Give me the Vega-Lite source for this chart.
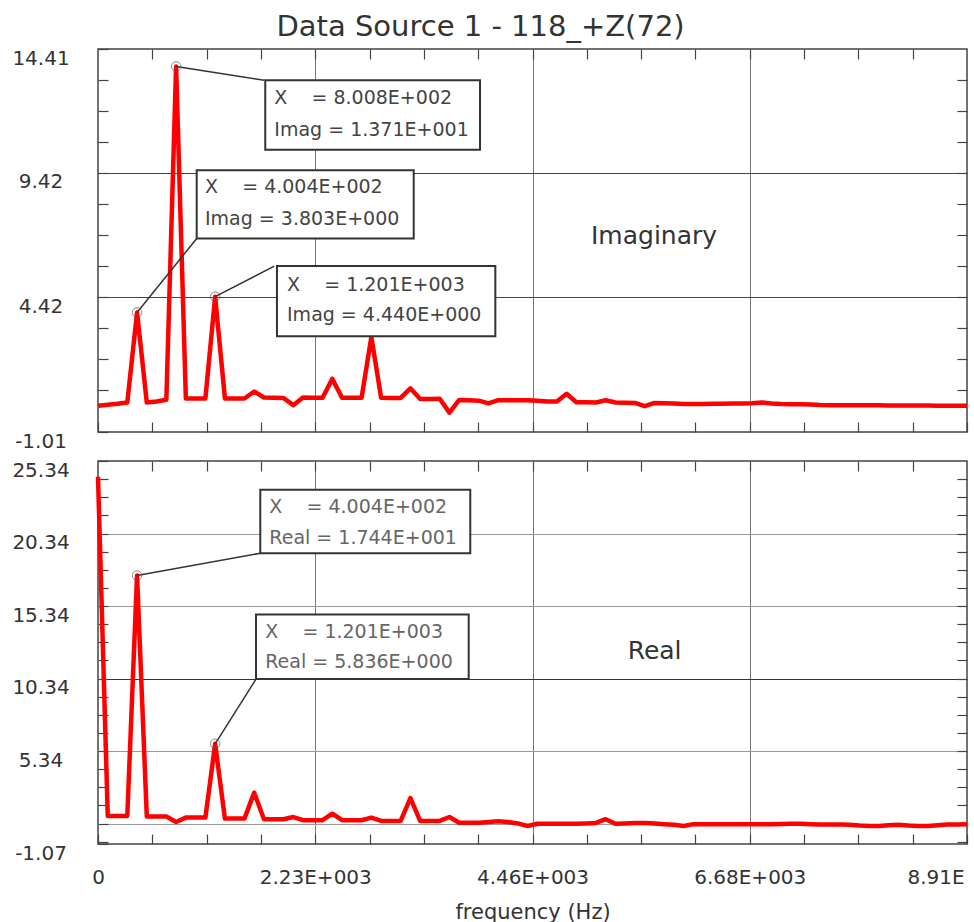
{
  "$schema": "https://vega.github.io/schema/vega-lite/v6.json",
  "autosize": {"type": "pad"},
  "padding": {"left": 11, "top": 13, "right": 8, "bottom": 2},
  "background": "white",
  "title": {"text": "Data Source 1 - 118_+Z(72)", "font": "DejaVu Sans", "fontSize": 29, "fontWeight": "normal", "color": "#333333", "anchor": "middle", "dx": -10, "offset": -18, "baseline": "alphabetic"},
  "config": {
    "font": "DejaVu Sans",
    "view": {"stroke": "#444444", "strokeWidth": 1.5},
    "axis": {"domain": false, "labelFont": "DejaVu Sans", "labelFontSize": 20, "labelColor": "#333333", "tickColor": "#444444", "tickWidth": 1.2, "gridColor": "#555555", "gridWidth": 1, "titleFont": "DejaVu Sans", "titleFontSize": 21, "titleFontWeight": "normal", "titleColor": "#333333", "labelFlush": false, "labelOverlap": false, "labelBound": false}
  },
  "datasets": {
    "imag": [
      {"f": 0, "v": 0.05}, {"f": 100.1, "v": 0.09}, {"f": 200.2, "v": 0.13}, {"f": 300.3, "v": 0.18}, {"f": 400.4, "v": 3.803},
      {"f": 500.5, "v": 0.18}, {"f": 600.6, "v": 0.22}, {"f": 700.7, "v": 0.29}, {"f": 800.8, "v": 13.71}, {"f": 900.9, "v": 0.34},
      {"f": 1001, "v": 0.34}, {"f": 1101.1, "v": 0.34}, {"f": 1201.2, "v": 4.44}, {"f": 1301.3, "v": 0.34}, {"f": 1401.4, "v": 0.34},
      {"f": 1501.5, "v": 0.34}, {"f": 1601.6, "v": 0.62}, {"f": 1701.7, "v": 0.38}, {"f": 1801.8, "v": 0.37}, {"f": 1901.9, "v": 0.36},
      {"f": 2002, "v": 0.07}, {"f": 2102.1, "v": 0.38}, {"f": 2202.2, "v": 0.37}, {"f": 2302.3, "v": 0.37}, {"f": 2402.4, "v": 1.13},
      {"f": 2502.5, "v": 0.37}, {"f": 2602.6, "v": 0.37}, {"f": 2702.7, "v": 0.37}, {"f": 2802.8, "v": 2.82}, {"f": 2902.9, "v": 0.37},
      {"f": 3003, "v": 0.36}, {"f": 3103.1, "v": 0.36}, {"f": 3203.2, "v": 0.75}, {"f": 3303.3, "v": 0.32}, {"f": 3403.4, "v": 0.32},
      {"f": 3503.5, "v": 0.33}, {"f": 3603.6, "v": -0.23}, {"f": 3703.7, "v": 0.28}, {"f": 3803.8, "v": 0.27}, {"f": 3903.9, "v": 0.25},
      {"f": 4004, "v": 0.14}, {"f": 4104.1, "v": 0.27}, {"f": 4204.2, "v": 0.27}, {"f": 4304.3, "v": 0.27}, {"f": 4404.4, "v": 0.27},
      {"f": 4504.5, "v": 0.25}, {"f": 4604.6, "v": 0.22}, {"f": 4704.7, "v": 0.22}, {"f": 4804.8, "v": 0.53}, {"f": 4904.9, "v": 0.19},
      {"f": 5005, "v": 0.19}, {"f": 5105.1, "v": 0.18}, {"f": 5205.2, "v": 0.27}, {"f": 5305.3, "v": 0.18}, {"f": 5405.4, "v": 0.17},
      {"f": 5505.5, "v": 0.16}, {"f": 5605.6, "v": 0.03}, {"f": 5705.7, "v": 0.16}, {"f": 5805.8, "v": 0.15}, {"f": 5905.9, "v": 0.14},
      {"f": 6006, "v": 0.12}, {"f": 6106.1, "v": 0.12}, {"f": 6206.2, "v": 0.12}, {"f": 6306.3, "v": 0.13}, {"f": 6406.4, "v": 0.13},
      {"f": 6506.5, "v": 0.14}, {"f": 6606.6, "v": 0.14}, {"f": 6706.7, "v": 0.15}, {"f": 6806.8, "v": 0.18}, {"f": 6906.9, "v": 0.14},
      {"f": 7007, "v": 0.12}, {"f": 7107.1, "v": 0.11}, {"f": 7207.2, "v": 0.11}, {"f": 7307.3, "v": 0.1}, {"f": 7407.4, "v": 0.08},
      {"f": 7507.5, "v": 0.07}, {"f": 7607.6, "v": 0.07}, {"f": 7707.7, "v": 0.07}, {"f": 7807.8, "v": 0.07}, {"f": 7907.9, "v": 0.07},
      {"f": 8008, "v": 0.07}, {"f": 8108.1, "v": 0.06}, {"f": 8208.2, "v": 0.06}, {"f": 8308.3, "v": 0.06}, {"f": 8408.4, "v": 0.06},
      {"f": 8508.5, "v": 0.06}, {"f": 8608.6, "v": 0.05}, {"f": 8708.7, "v": 0.05}, {"f": 8808.8, "v": 0.05}, {"f": 8910, "v": 0.05}
    ],
    "real": [
      {"f": 0, "v": 24.25}, {"f": 100.1, "v": 0.86}, {"f": 200.2, "v": 0.86}, {"f": 300.3, "v": 0.86}, {"f": 400.4, "v": 17.44},
      {"f": 500.5, "v": 0.82}, {"f": 600.6, "v": 0.82}, {"f": 700.7, "v": 0.82}, {"f": 800.8, "v": 0.45}, {"f": 900.9, "v": 0.75},
      {"f": 1001, "v": 0.75}, {"f": 1101.1, "v": 0.75}, {"f": 1201.2, "v": 5.836}, {"f": 1301.3, "v": 0.68}, {"f": 1401.4, "v": 0.68},
      {"f": 1501.5, "v": 0.68}, {"f": 1601.6, "v": 2.47}, {"f": 1701.7, "v": 0.64}, {"f": 1801.8, "v": 0.64}, {"f": 1901.9, "v": 0.64},
      {"f": 2002, "v": 0.79}, {"f": 2102.1, "v": 0.57}, {"f": 2202.2, "v": 0.57}, {"f": 2302.3, "v": 0.57}, {"f": 2402.4, "v": 1.02},
      {"f": 2502.5, "v": 0.57}, {"f": 2602.6, "v": 0.57}, {"f": 2702.7, "v": 0.57}, {"f": 2802.8, "v": 0.75}, {"f": 2902.9, "v": 0.52},
      {"f": 3003, "v": 0.52}, {"f": 3103.1, "v": 0.52}, {"f": 3203.2, "v": 2.1}, {"f": 3303.3, "v": 0.52}, {"f": 3403.4, "v": 0.52},
      {"f": 3503.5, "v": 0.52}, {"f": 3603.6, "v": 0.79}, {"f": 3703.7, "v": 0.4}, {"f": 3803.8, "v": 0.4}, {"f": 3903.9, "v": 0.4},
      {"f": 4004, "v": 0.45}, {"f": 4104.1, "v": 0.5}, {"f": 4204.2, "v": 0.45}, {"f": 4304.3, "v": 0.35}, {"f": 4404.4, "v": 0.17},
      {"f": 4504.5, "v": 0.33}, {"f": 4604.6, "v": 0.33}, {"f": 4704.7, "v": 0.33}, {"f": 4804.8, "v": 0.33}, {"f": 4904.9, "v": 0.33},
      {"f": 5005, "v": 0.35}, {"f": 5105.1, "v": 0.38}, {"f": 5205.2, "v": 0.64}, {"f": 5305.3, "v": 0.33}, {"f": 5405.4, "v": 0.35},
      {"f": 5505.5, "v": 0.38}, {"f": 5605.6, "v": 0.38}, {"f": 5705.7, "v": 0.35}, {"f": 5805.8, "v": 0.3}, {"f": 5905.9, "v": 0.25},
      {"f": 6006, "v": 0.17}, {"f": 6106.1, "v": 0.3}, {"f": 6206.2, "v": 0.3}, {"f": 6306.3, "v": 0.3}, {"f": 6406.4, "v": 0.3},
      {"f": 6506.5, "v": 0.3}, {"f": 6606.6, "v": 0.3}, {"f": 6706.7, "v": 0.3}, {"f": 6806.8, "v": 0.3}, {"f": 6906.9, "v": 0.3},
      {"f": 7007, "v": 0.31}, {"f": 7107.1, "v": 0.32}, {"f": 7207.2, "v": 0.33}, {"f": 7307.3, "v": 0.3}, {"f": 7407.4, "v": 0.28},
      {"f": 7507.5, "v": 0.27}, {"f": 7607.6, "v": 0.27}, {"f": 7707.7, "v": 0.26}, {"f": 7807.8, "v": 0.2}, {"f": 7907.9, "v": 0.17},
      {"f": 8008, "v": 0.17}, {"f": 8108.1, "v": 0.22}, {"f": 8208.2, "v": 0.25}, {"f": 8308.3, "v": 0.2}, {"f": 8408.4, "v": 0.17},
      {"f": 8508.5, "v": 0.17}, {"f": 8608.6, "v": 0.22}, {"f": 8708.7, "v": 0.27}, {"f": 8808.8, "v": 0.28}, {"f": 8910, "v": 0.29}
    ],
    "annI": [
      {"bx": 1715, "bx2": 3917, "by": 13.15, "by2": 10.35, "px": 800.8, "py": 13.71, "cx": 1705, "cy": 13.15, "tx": 1808, "t1y": 12.45, "t2y": 11.16, "l1": "X\u00a0\u00a0\u00a0\u00a0= 8.008E+002", "l2": "Imag = 1.371E+001"},
      {"bx": 1012, "bx2": 3237, "by": 9.53, "by2": 6.78, "px": 400.4, "py": 3.803, "cx": 1012, "cy": 6.78, "tx": 1097, "t1y": 8.855, "t2y": 7.567, "l1": "X\u00a0\u00a0\u00a0\u00a0= 4.004E+002", "l2": "Imag = 3.803E+000"},
      {"bx": 1835, "bx2": 4074, "by": 5.67, "by2": 2.85, "px": 1201.2, "py": 4.44, "cx": 1808, "cy": 5.67, "tx": 1938, "t1y": 4.925, "t2y": 3.705, "l1": "X\u00a0\u00a0\u00a0\u00a0= 1.201E+003", "l2": "Imag = 4.440E+000"}
    ],
    "annR": [
      {"bx": 1664, "bx2": 3817, "by": 23.36, "by2": 18.98, "px": 400.4, "py": 17.44, "cx": 1664, "cy": 18.98, "tx": 1757, "t1y": 22.16, "t2y": 20.04, "l1": "X\u00a0\u00a0\u00a0\u00a0= 4.004E+002", "l2": "Real = 1.744E+001"},
      {"bx": 1620, "bx2": 3801, "by": 14.75, "by2": 10.3, "px": 1201.2, "py": 5.836, "cx": 1620, "cy": 10.3, "tx": 1715, "t1y": 13.52, "t2y": 11.45, "l1": "X\u00a0\u00a0\u00a0\u00a0= 1.201E+003", "l2": "Real = 5.836E+000"}
    ]
  },
  "bounds": "flush",
  "spacing": 29,
  "vconcat": [
    {
      "width": 869,
      "height": 383,
      "resolve": {"axis": {"x": "independent", "y": "independent"}},
      "layer": [
        {
          "data": {"name": "imag"},
          "mark": {"type": "line", "color": "#ff0000", "strokeWidth": 4.5, "strokeJoin": "round"},
          "encoding": {
            "x": {"field": "f", "type": "quantitative", "scale": {"domain": [0, 8910], "nice": false, "zero": false},
              "axis": {"orient": "bottom", "values": [0, 556.875, 1113.75, 1670.625, 2227.5, 2784.375, 3341.25, 3898.125, 4455, 5011.875, 5568.75, 6125.625, 6682.5, 7239.375, 7796.25, 8353.125, 8910], "labels": false, "title": null, "tickSize": -10, "grid": true, "gridColor": "#777777",
                "gridOpacity": {"condition": {"test": "indexof([2227.5, 4455, 6682.5], datum.value) >= 0", "value": 1}, "value": 0}}},
            "y": {"field": "v", "type": "quantitative", "scale": {"domain": [-1.01, 14.41], "nice": false, "zero": false},
              "axis": {"orient": "left", "values": [14.41, 13.16, 11.91, 10.67, 9.42, 8.17, 6.92, 5.67, 4.42, 3.17, 1.92, 0.67, -1.01],
                "labelExpr": "datum.value == 14.41 ? '14.41' : datum.value == 9.42 ? '9.42' : datum.value == 4.42 ? '4.42' : datum.value == -1.01 ? '-1.01' : ''",
                "labelAlign": "center", "labelBaseline": "middle", "labelOffset": 9, "labelPadding": 67.5, "tickSize": -10, "title": null, "grid": true, "gridColor": "#444444",
                "gridOpacity": {"condition": {"test": "indexof([9.42, 4.42], datum.value) >= 0", "value": 1}, "value": 0}}}
          }
        },
        {
          "data": {"name": "annI"},
          "mark": {"type": "rule", "color": "#333333", "strokeWidth": 1.5},
          "encoding": {
            "x": {"field": "px", "type": "quantitative", "axis": null},
            "y": {"field": "py", "type": "quantitative", "axis": null},
            "x2": {"field": "cx"},
            "y2": {"field": "cy"}
          }
        },
        {
          "data": {"name": "annI"},
          "mark": {"type": "rect", "fill": "white", "stroke": "#333333", "strokeWidth": 2},
          "encoding": {
            "x": {"field": "bx", "type": "quantitative", "axis": null},
            "x2": {"field": "bx2"},
            "y": {"field": "by", "type": "quantitative", "axis": null},
            "y2": {"field": "by2"}
          }
        },
        {
          "data": {"name": "annI"},
          "mark": {"type": "text", "align": "left", "baseline": "middle", "fontSize": 19, "font": "DejaVu Sans", "color": "#444444"},
          "encoding": {
            "x": {"field": "tx", "type": "quantitative", "axis": null},
            "y": {"field": "t1y", "type": "quantitative", "axis": null},
            "text": {"field": "l1"}
          }
        },
        {
          "data": {"name": "annI"},
          "mark": {"type": "text", "align": "left", "baseline": "middle", "fontSize": 19, "font": "DejaVu Sans", "color": "#444444"},
          "encoding": {
            "x": {"field": "tx", "type": "quantitative", "axis": null},
            "y": {"field": "t2y", "type": "quantitative", "axis": null},
            "text": {"field": "l2"}
          }
        },
        {
          "data": {"name": "annI"},
          "mark": {"type": "point", "shape": "circle", "filled": false, "size": 90, "color": "#555555", "strokeWidth": 1},
          "encoding": {
            "x": {"field": "px", "type": "quantitative",
              "axis": {"orient": "top", "values": [556.875, 1113.75, 1670.625, 2227.5, 2784.375, 3341.25, 3898.125, 4455, 5011.875, 5568.75, 6125.625, 6682.5, 7239.375, 7796.25, 8353.125], "labels": false, "title": null, "tickSize": -10, "grid": false}},
            "y": {"field": "py", "type": "quantitative",
              "axis": {"orient": "right", "values": [13.16, 11.91, 10.67, 9.42, 8.17, 6.92, 5.67, 4.42, 3.17, 1.92, 0.67], "labels": false, "title": null, "tickSize": -10, "grid": false}}
          }
        },
        {
          "data": {"values": [{"x": 5701, "y": 6.89, "t": "Imaginary"}]},
          "mark": {"type": "text", "align": "center", "baseline": "middle", "fontSize": 25, "font": "DejaVu Sans", "color": "#333333"},
          "encoding": {
            "x": {"field": "x", "type": "quantitative", "axis": null},
            "y": {"field": "y", "type": "quantitative", "axis": null},
            "text": {"field": "t"}
          }
        }
      ]
    },
    {
      "width": 869,
      "height": 383,
      "resolve": {"axis": {"x": "independent", "y": "independent"}},
      "layer": [
        {
          "data": {"name": "real"},
          "mark": {"type": "line", "color": "#ff0000", "strokeWidth": 4.5, "strokeJoin": "round"},
          "encoding": {
            "x": {"field": "f", "type": "quantitative", "scale": {"domain": [0, 8910], "nice": false, "zero": false},
              "axis": {"orient": "bottom", "values": [0, 556.875, 1113.75, 1670.625, 2227.5, 2784.375, 3341.25, 3898.125, 4455, 5011.875, 5568.75, 6125.625, 6682.5, 7239.375, 7796.25, 8353.125, 8910],
                "labelExpr": "datum.value == 0 ? '0' : datum.value == 2227.5 ? '2.23E+003' : datum.value == 4455 ? '4.46E+003' : datum.value == 6682.5 ? '6.68E+003' : datum.value == 8910 ? '8.91E' : ''",
                "labelAlign": {"condition": {"test": "datum.value == 8910", "value": "left"}, "value": "center"},
                "labelOffset": {"condition": {"test": "datum.value == 8910", "value": -60}, "value": 0},
                "labelBaseline": "top", "labelPadding": 33, "tickSize": -10, "grid": true, "gridColor": "#777777",
                "gridOpacity": {"condition": {"test": "indexof([2227.5, 4455, 6682.5], datum.value) >= 0", "value": 1}, "value": 0},
                "title": "frequency (Hz)", "titlePadding": 14}},
            "y": {"field": "v", "type": "quantitative", "scale": {"domain": [-1.07, 25.34], "nice": false, "zero": false},
              "axis": {"orient": "left", "values": [25.34, 24.09, 22.84, 21.59, 20.34, 19.09, 17.84, 16.59, 15.34, 14.09, 12.84, 11.59, 10.34, 9.09, 7.84, 6.59, 5.34, 4.09, 2.84, 1.59, 0.34, -0.91, -1.07],
                "labelExpr": "datum.value == 25.34 ? '25.34' : datum.value == 20.34 ? '20.34' : datum.value == 15.34 ? '15.34' : datum.value == 10.34 ? '10.34' : datum.value == 5.34 ? '5.34' : datum.value == -1.07 ? '-1.07' : ''",
                "labelAlign": "center", "labelBaseline": "middle", "labelOffset": 9, "labelPadding": 67.5, "tickSize": -10, "title": null, "grid": true,
                "gridColor": {"condition": {"test": "datum.value == 10.34", "value": "#333333"}, "value": "#999999"},
                "gridOpacity": {"condition": {"test": "indexof([20.34, 15.34, 10.34, 5.34, 0.34], datum.value) >= 0", "value": 1}, "value": 0}}}
          }
        },
        {
          "data": {"name": "annR"},
          "mark": {"type": "rule", "color": "#333333", "strokeWidth": 1.5},
          "encoding": {
            "x": {"field": "px", "type": "quantitative", "axis": null},
            "y": {"field": "py", "type": "quantitative", "axis": null},
            "x2": {"field": "cx"},
            "y2": {"field": "cy"}
          }
        },
        {
          "data": {"name": "annR"},
          "mark": {"type": "rect", "fill": "white", "stroke": "#333333", "strokeWidth": 2},
          "encoding": {
            "x": {"field": "bx", "type": "quantitative", "axis": null},
            "x2": {"field": "bx2"},
            "y": {"field": "by", "type": "quantitative", "axis": null},
            "y2": {"field": "by2"}
          }
        },
        {
          "data": {"name": "annR"},
          "mark": {"type": "text", "align": "left", "baseline": "middle", "fontSize": 19, "font": "DejaVu Sans", "color": "#666666"},
          "encoding": {
            "x": {"field": "tx", "type": "quantitative", "axis": null},
            "y": {"field": "t1y", "type": "quantitative", "axis": null},
            "text": {"field": "l1"}
          }
        },
        {
          "data": {"name": "annR"},
          "mark": {"type": "text", "align": "left", "baseline": "middle", "fontSize": 19, "font": "DejaVu Sans", "color": "#666666"},
          "encoding": {
            "x": {"field": "tx", "type": "quantitative", "axis": null},
            "y": {"field": "t2y", "type": "quantitative", "axis": null},
            "text": {"field": "l2"}
          }
        },
        {
          "data": {"name": "annR"},
          "mark": {"type": "point", "shape": "circle", "filled": false, "size": 90, "color": "#555555", "strokeWidth": 1},
          "encoding": {
            "x": {"field": "px", "type": "quantitative",
              "axis": {"orient": "top", "values": [556.875, 1113.75, 1670.625, 2227.5, 2784.375, 3341.25, 3898.125, 4455, 5011.875, 5568.75, 6125.625, 6682.5, 7239.375, 7796.25, 8353.125], "labels": false, "title": null, "tickSize": -10, "grid": false}},
            "y": {"field": "py", "type": "quantitative",
              "axis": {"orient": "right", "values": [24.09, 22.84, 21.59, 20.34, 19.09, 17.84, 16.59, 15.34, 14.09, 12.84, 11.59, 10.34, 9.09, 7.84, 6.59, 5.34, 4.09, 2.84, 1.59, 0.34, -0.91], "labels": false, "title": null, "tickSize": -10, "grid": false}}
          }
        },
        {
          "data": {"values": [{"x": 5707, "y": 12.21, "t": "Real"}]},
          "mark": {"type": "text", "align": "center", "baseline": "middle", "fontSize": 25, "font": "DejaVu Sans", "color": "#333333"},
          "encoding": {
            "x": {"field": "x", "type": "quantitative", "axis": null},
            "y": {"field": "y", "type": "quantitative", "axis": null},
            "text": {"field": "t"}
          }
        }
      ]
    }
  ]
}
